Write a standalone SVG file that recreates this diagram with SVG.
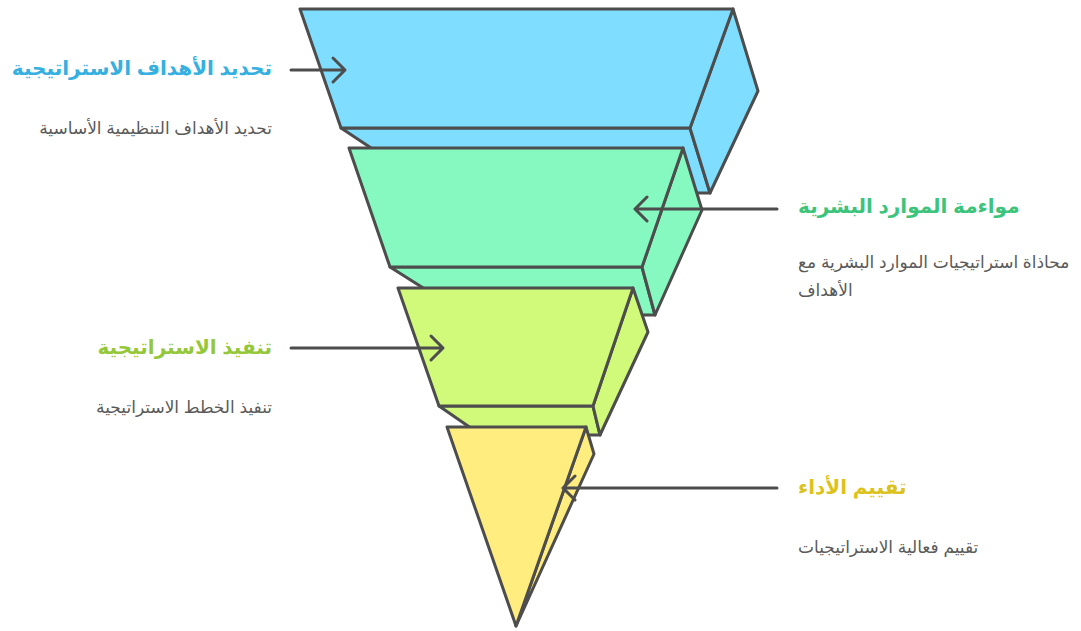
<svg xmlns="http://www.w3.org/2000/svg" width="1081" height="631" viewBox="0 0 1081 631">
<defs>
<style>
.s{stroke:#4d4d4d;stroke-width:3;stroke-linejoin:round}
.b{fill:#7fdeff}.g{fill:#85f9c0}.l{fill:#d1f97a}.y{fill:#ffed80}
.c{fill:none;stroke:#4d4d4d;stroke-width:3;stroke-linecap:round;stroke-linejoin:round}
.t{font-family:"Liberation Sans","DejaVu Sans",sans-serif;font-weight:bold;font-size:20px}
.d{font-family:"Liberation Sans","DejaVu Sans",sans-serif;font-size:17px;fill:#5a5a5a}
</style>
</defs>
<rect width="1081" height="631" fill="#ffffff"/>
<g id="layer1">
<polygon class="s b" points="341,128 690,128 710,193 439,193"/>
<polygon class="s b" points="733,9 758,91 710,193 690,128"/>
<polygon class="s b" points="300,9 733,9 690,128 341,128"/>
</g>
<g id="layer2">
<polygon class="s g" points="390,267 642,267 655,315 466,315"/>
<polygon class="s g" points="683,148 702,210 655,315 642,267"/>
<polygon class="s g" points="349,148 683,148 642,267 390,267"/>
</g>
<g id="layer3">
<polygon class="s l" points="439,406 593,406 600,435 481,435"/>
<polygon class="s l" points="633,288 648,332 600,435 593,406"/>
<polygon class="s l" points="398,288 633,288 593,406 439,406"/>
</g>
<g id="layer4">
<polygon class="s y" points="586,427 594,454 516,626"/>
<polygon class="s y" points="447,427 586,427 516,626"/>
</g>
<g id="connectors">
<path class="c" d="M291,70 H345 M333,58 L345,70 L333,82"/>
<path class="c" d="M777,209 H635 M647,197 L635,209 L647,221"/>
<path class="c" d="M291,348 H443 M431,336 L443,348 L431,360"/>
<path class="c" d="M777,488 H563 M575,476 L563,488 L575,500"/>
</g>
<g id="label1">
<text class="t" x="272" y="75" text-anchor="end" fill="#35b0e0">تحديد الأهداف الاستراتيجية</text>
<text class="d" x="272" y="134" text-anchor="end">تحديد الأهداف التنظيمية الأساسية</text>
</g>
<g id="label2">
<text class="t" x="798" y="213" text-anchor="start" fill="#3cc47c">مواءمة الموارد البشرية</text>
<text class="d" x="798" y="268" text-anchor="start">محاذاة استراتيجيات الموارد البشرية مع</text>
<text class="d" x="798" y="296" text-anchor="start">الأهداف</text>
</g>
<g id="label3">
<text class="t" x="272" y="354" text-anchor="end" fill="#94c83a">تنفيذ الاستراتيجية</text>
<text class="d" x="272" y="413" text-anchor="end">تنفيذ الخطط الاستراتيجية</text>
</g>
<g id="label4">
<text class="t" x="798" y="494" text-anchor="start" fill="#dcc21c">تقييم الأداء</text>
<text class="d" x="798" y="553" text-anchor="start">تقييم فعالية الاستراتيجيات</text>
</g>
</svg>
